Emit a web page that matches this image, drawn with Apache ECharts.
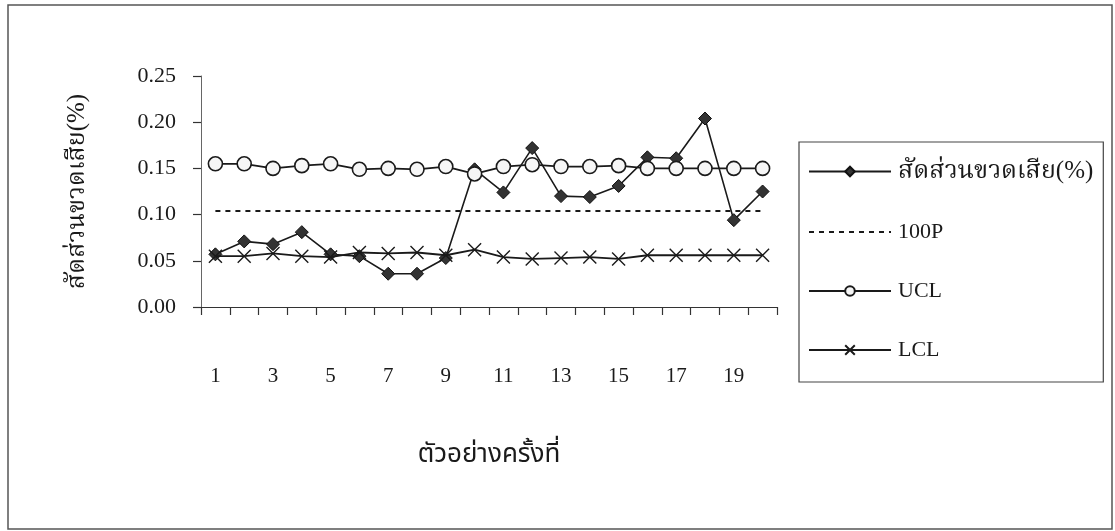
<!DOCTYPE html>
<html>
<head>
<meta charset="utf-8">
<script src="https://cdn.jsdelivr.net/npm/echarts@6/dist/echarts.min.js"></script>
<style>
  html, body { margin: 0; padding: 0; background: #fff; }
  #chart { width: 1115px; height: 531px; }
</style>
</head>
<body>
<div id="chart"></div>
<script>
// Sample numbers (ตัวอย่างครั้งที่ 1–20)
const categories = ['1','2','3','4','5','6','7','8','9','10','11','12','13','14','15','16','17','18','19','20'];

// Defective-bottle proportion per sample (%)
const defectRate = [0.057, 0.071, 0.068, 0.081, 0.057, 0.055, 0.036, 0.036, 0.053, 0.149,
                    0.124, 0.172, 0.120, 0.119, 0.131, 0.162, 0.161, 0.204, 0.094, 0.125];

// Centre line 100P
const centerLine = [0.104, 0.104, 0.104, 0.104, 0.104, 0.104, 0.104, 0.104, 0.104, 0.104,
                    0.104, 0.104, 0.104, 0.104, 0.104, 0.104, 0.104, 0.104, 0.104, 0.104];

// Upper control limit
const ucl = [0.155, 0.155, 0.150, 0.153, 0.155, 0.149, 0.150, 0.149, 0.152, 0.144,
             0.152, 0.154, 0.152, 0.152, 0.153, 0.150, 0.150, 0.150, 0.150, 0.150];

// Lower control limit
const lcl = [0.055, 0.055, 0.058, 0.055, 0.054, 0.059, 0.058, 0.059, 0.056, 0.062,
             0.054, 0.052, 0.053, 0.054, 0.052, 0.056, 0.056, 0.056, 0.056, 0.056];

// Value-axis ticks
const yTicks = { min: 0, max: 0.25, step: 0.05 };

const seriesNames = ['สัดส่วนขวดเสีย(%)', '100P', 'UCL', 'LCL'];
const yTitle = 'สัดส่วนขวดเสีย(%)';
const xTitle = 'ตัวอย่างครั้งที่';

const serif = '"Liberation Serif", "Noto Serif Thai", "Times New Roman", serif';
const thaiSans = '"Noto Sans Thai", "Noto Sans Thai Looped", "Noto Sans", sans-serif';
const ink = '#1a1a1a';

const crossPath = 'path://M0,0L10,10M10,0L0,10';

const chart = echarts.init(document.getElementById('chart'), null, { renderer: 'canvas' });

chart.setOption({
  backgroundColor: '#fff',
  animation: false,
  graphic: [{
    type: 'rect',
    shape: { x: 8, y: 5, width: 1104, height: 524 },
    style: { fill: 'none', stroke: '#555', lineWidth: 1.5 },
    silent: true
  }],
  grid: { left: 201, top: 76, width: 576, height: 231 },
  legend: {
    orient: 'vertical',
    left: 799,
    top: 142,
    padding: [17, 10, 21, 9],
    itemGap: 37,
    itemWidth: 82,
    itemHeight: 12,
    borderColor: '#444',
    borderWidth: 1.2,
    textStyle: {
      fontFamily: serif, fontSize: 22, color: ink, padding: [0, 0, 0, 2],
      rich: { th: { fontFamily: serif, fontSize: 25, color: ink } }
    },
    formatter: name => (name === seriesNames[0] ? '{th|' + name + '}' : name),
    data: [
      { name: seriesNames[0] },
      { name: seriesNames[1], itemStyle: { opacity: 0 } },
      { name: seriesNames[2] },
      { name: seriesNames[3] }
    ]
  },
  xAxis: {
    type: 'category',
    data: categories,
    boundaryGap: true,
    axisLine: { lineStyle: { color: '#333', width: 1.2 } },
    axisTick: { show: true, interval: 0, length: 8, lineStyle: { color: '#333', width: 1.2 } },
    axisLabel: { interval: 1, margin: 59, fontFamily: serif, fontSize: 21, color: ink },
    name: xTitle,
    nameLocation: 'middle',
    nameGap: 137,
    nameTextStyle: { fontFamily: thaiSans, fontSize: 26, color: ink }
  },
  yAxis: {
    type: 'value',
    min: yTicks.min,
    max: yTicks.max,
    interval: yTicks.step,
    splitLine: { show: false },
    axisLine: { show: true, lineStyle: { color: '#666', width: 1 } },
    axisTick: { show: true, length: 8, lineStyle: { color: '#333', width: 1.2 } },
    axisLabel: { margin: 25, fontFamily: serif, fontSize: 22, color: ink, formatter: v => v.toFixed(2) },
    name: yTitle,
    nameLocation: 'middle',
    nameGap: 111,
    nameRotate: 90,
    nameTextStyle: { fontFamily: serif, fontSize: 25, color: ink }
  },
  series: [{
    name: seriesNames[0],
    type: 'line',
    data: defectRate,
    symbol: 'diamond',
    symbolSize: 13,
    lineStyle: { color: ink, width: 1.6 },
    itemStyle: { color: '#333', borderColor: '#111', borderWidth: 1 },
    z: 2
  }, {
    name: seriesNames[1],
    type: 'line',
    data: centerLine,
    symbol: 'none',
    lineStyle: { color: ink, width: 2, type: [5, 5] },
    itemStyle: { color: ink },
    z: 2
  }, {
    name: seriesNames[2],
    type: 'line',
    data: ucl,
    symbol: 'circle',
    symbolSize: 14,
    lineStyle: { color: ink, width: 1.8 },
    itemStyle: { color: '#f6f6f6', borderColor: ink, borderWidth: 1.6 },
    z: 3
  }, {
    name: seriesNames[3],
    type: 'line',
    data: lcl,
    symbol: crossPath,
    symbolSize: 13,
    lineStyle: { color: ink, width: 1.8 },
    itemStyle: { color: ink, borderColor: ink, borderWidth: 1.4 },
    z: 3
  }]
});
</script>
</body>
</html>
